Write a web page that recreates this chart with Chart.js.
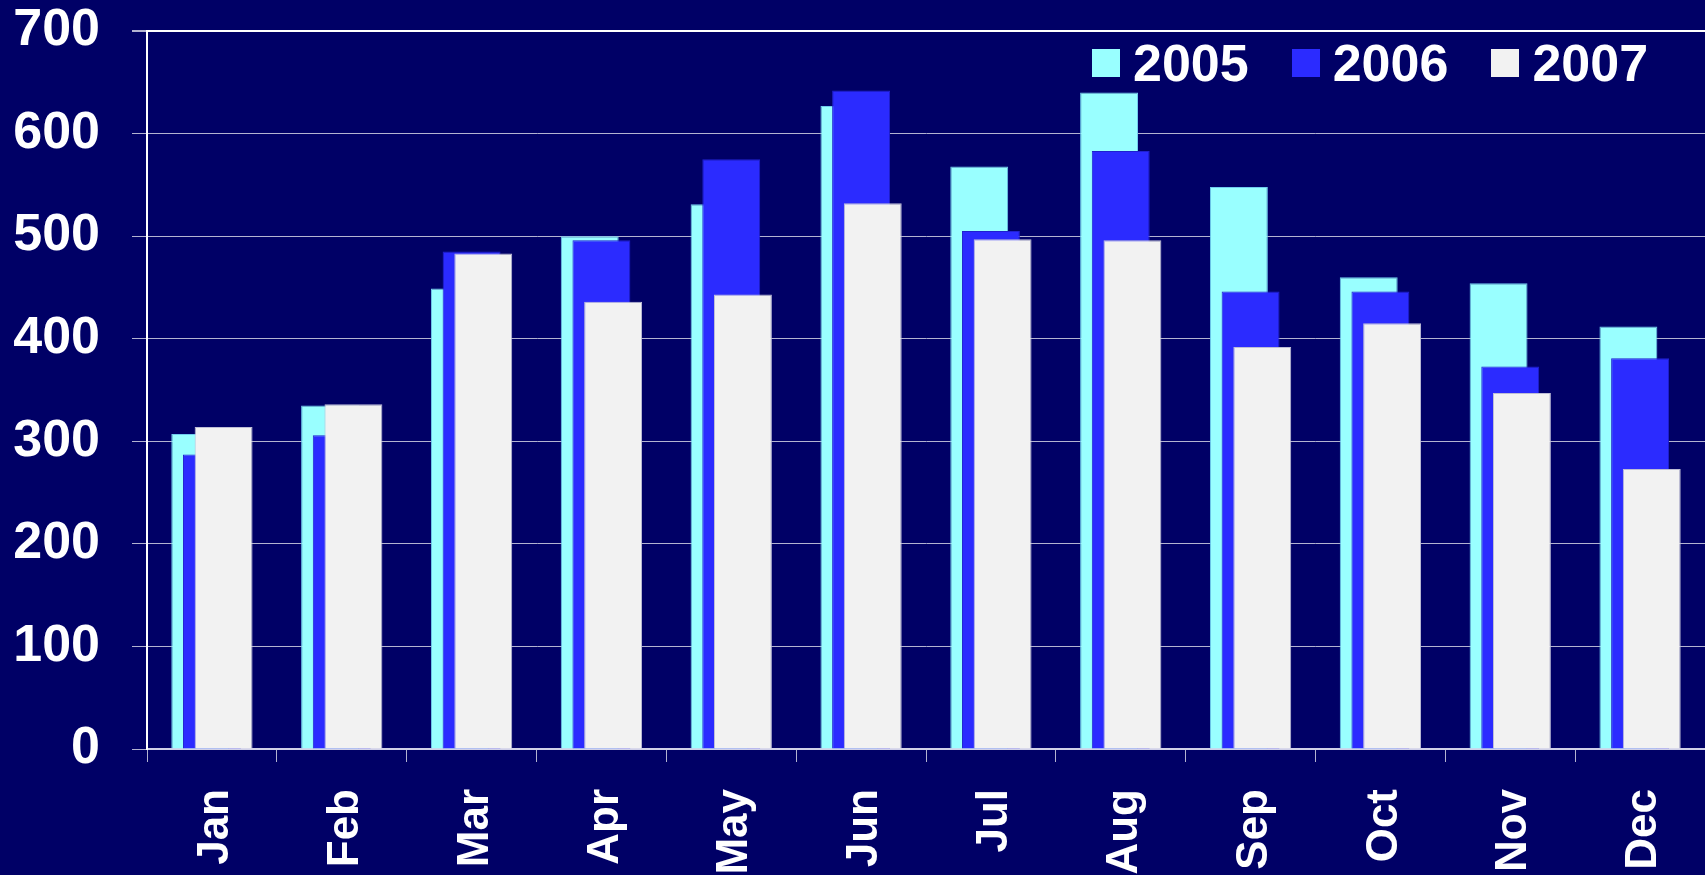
<!DOCTYPE html>
<html>
<head>
<meta charset="utf-8">
<script src="https://cdn.jsdelivr.net/npm/chart.js@4.4.1/dist/chart.umd.min.js"></script>
<style>
    html, body { margin: 0; padding: 0; background: #000066; }
    #wrap { position: relative; width: 1705px; height: 875px; }
    #legend {
        position: absolute; left: 1092px; top: 49px; display: flex;
        font: bold 52px "Liberation Sans", Arial, sans-serif; color: #ffffff;
    }
    #legend .item { display: flex; align-items: center; height: 28px; margin-right: 43px; }
    #legend .box { width: 28px; height: 28px; margin-right: 13px; }
</style>
</head>
<body>
<div id="wrap">
    <canvas id="barChart" width="1705" height="875"></canvas>
    <div id="legend"></div>
</div>
<script>
const months = ['Jan', 'Feb', 'Mar', 'Apr', 'May', 'Jun', 'Jul', 'Aug', 'Sep', 'Oct', 'Nov', 'Dec'];
const years = ['2005', '2006', '2007'];
const values2005 = [307, 335, 449, 500, 531, 627, 568, 640, 548, 460, 454, 412];
const values2006 = [287, 306, 485, 496, 575, 642, 505, 583, 446, 446, 373, 381];
const values2007 = [314, 336, 483, 436, 443, 532, 497, 496, 392, 415, 347, 273];
const yTicks = [0, 100, 200, 300, 400, 500, 600, 700];

const FONT = '"Liberation Sans", Arial, sans-serif';
const GRID = '#B3B3D1';

document.addEventListener('DOMContentLoaded', function () {
    try {
        // each year sits on its own hidden x axis, shifted a bit, so the bars overlap like the original
        const toPoints = vals => vals.map((v, i) => ({ x: i, y: v }));
        const shiftedAxis = shift => ({
            type: 'linear',
            display: false,
            offset: false,
            bounds: 'data',
            min: -0.5 + shift,
            max: months.length - 0.5 + shift,
            ticks: { stepSize: 1, includeBounds: false }
        });

        const ctx = document.getElementById('barChart').getContext('2d');
        const chart = new Chart(ctx, {
            type: 'bar',
            data: {
                labels: months,
                datasets: [
                    { label: years[0], data: toPoints(values2005), xAxisID: 'x05', order: 3,
                      backgroundColor: '#99FFFF', borderColor: '#70CCEE', borderWidth: 1 },
                    { label: years[1], data: toPoints(values2006), xAxisID: 'x06', order: 2,
                      backgroundColor: '#2B2BFF', borderColor: '#2020D0', borderWidth: 1 },
                    { label: years[2], data: toPoints(values2007), xAxisID: 'x07', order: 1,
                      backgroundColor: '#F2F2F2', borderColor: '#BDBDD6', borderWidth: 1 }
                ]
            },
            options: {
                responsive: false,
                animation: false,
                layout: { padding: { left: 13, top: 31, right: 0, bottom: 0 } },
                datasets: { bar: { grouped: false, categoryPercentage: 1, barPercentage: 0.446 } },
                plugins: {
                    legend: { display: false },
                    tooltip: { enabled: false }
                },
                scales: {
                    x: {
                        type: 'category',
                        position: 'bottom',
                        offset: true,
                        grid: { offset: true, drawOnChartArea: false, tickLength: 13, color: GRID },
                        border: { color: '#D0D0E8', width: 2 },
                        ticks: {
                            color: '#ffffff',
                            font: { family: FONT, size: 44, weight: 'bold' },
                            minRotation: 90, maxRotation: 90, autoSkip: false, padding: 27,
                            labelOffset: 4
                        },
                        afterFit: s => { s.height = 126; s.paddingLeft = 0; s.paddingRight = 0; }
                    },
                    x05: shiftedAxis(0.09),
                    x06: shiftedAxis(0),
                    x07: shiftedAxis(-0.09),
                    y: {
                        type: 'linear',
                        position: 'left',
                        min: 0,
                        max: 700,
                        afterBuildTicks: s => { s.ticks = yTicks.map(v => ({ value: v })); },
                        grid: {
                            color: c => (c.tick && c.tick.value === 700 ? '#ffffff' : GRID),
                            lineWidth: c => (c.tick && c.tick.value === 700 ? 2 : 1),
                            tickColor: GRID,
                            tickLength: 15
                        },
                        border: { color: '#ffffff', width: 2 },
                        ticks: {
                            color: '#ffffff',
                            font: { family: FONT, size: 52, weight: 'bold', lineHeight: 1 },
                            padding: 32
                        },
                        afterFit: s => { s.width = 134; s.paddingTop = 0; s.paddingBottom = 0; }
                    }
                }
            }
        });

        // legend drawn as html, same order as the datasets
        const legend = document.getElementById('legend');
        chart.data.datasets.forEach(ds => {
            const item = document.createElement('div');
            item.className = 'item';
            const box = document.createElement('span');
            box.className = 'box';
            box.style.background = ds.backgroundColor;
            const txt = document.createElement('span');
            txt.textContent = ds.label;
            item.appendChild(box);
            item.appendChild(txt);
            legend.appendChild(item);
        });
    } catch (error) {
        console.error("Erro ao montar gráfico:", error);
    }
});
</script>
</body>
</html>
